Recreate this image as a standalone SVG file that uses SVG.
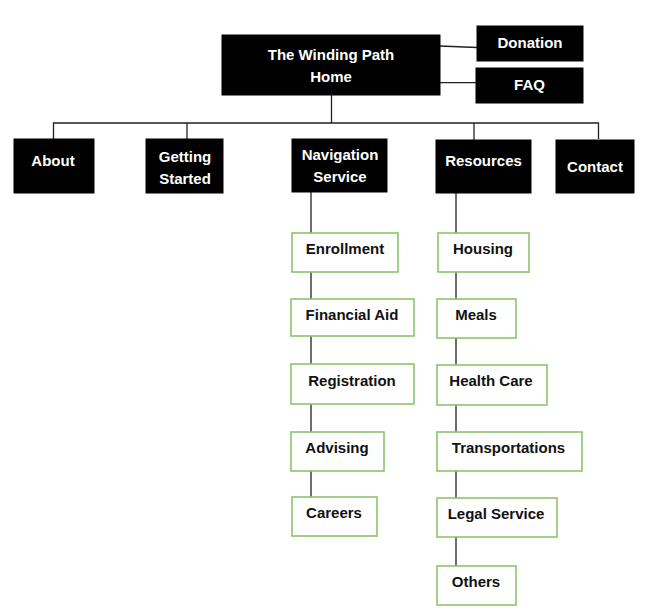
<svg xmlns="http://www.w3.org/2000/svg" width="649" height="614" viewBox="0 0 649 614">
<style>
.blk{fill:#000;stroke:#000}
.grn{fill:#fff;stroke:#8DC56C;stroke-width:1.6}
.wt{font-family:"Liberation Sans",Arial,sans-serif;font-weight:bold;font-size:15px;fill:#fff;text-anchor:middle}
.bt{font-family:"Liberation Sans",Arial,sans-serif;font-weight:bold;font-size:15px;fill:#111;text-anchor:middle}
.ln{stroke:#222;stroke-width:1.3;fill:none}
</style>
<rect width="649" height="614" fill="#fff"/>
<g id="connectors">
<path class="ln" d="M440 46 L477 47.5"/>
<path class="ln" d="M440 82.7 L476 82.7"/>
<path class="ln" d="M331.5 95 V123"/>
<path class="ln" d="M53.5 139 V123 H598.5 V139"/>
<path class="ln" d="M187 123 V139"/>
<path class="ln" d="M474 123 V140"/>
<path class="ln" d="M311 192 V233 M311 272 V299 M311 336 V364 M311 404 V432 M311 471 V497"/>
<path class="ln" d="M456 193 V233 M456 272 V299 M456 338 V365 M456 405 V432 M456 471 V498 M456 537 V566"/>
</g>
<g id="home"><rect class="blk" x="222" y="35" width="218" height="60"/><text class="wt" x="331" y="59.5">The Winding Path</text><text class="wt" x="331" y="81.5">Home</text></g>
<g id="donation"><rect class="blk" x="477" y="26" width="106" height="35"/><text class="wt" x="530" y="48">Donation</text></g>
<g id="faq"><rect class="blk" x="476" y="68" width="107" height="35"/><text class="wt" x="529.5" y="90">FAQ</text></g>
<g id="about"><rect class="blk" x="14" y="139" width="80" height="54"/><text class="wt" x="53" y="165.5">About</text></g>
<g id="getting-started"><rect class="blk" x="146" y="139" width="77" height="54"/><text class="wt" x="185" y="161.5">Getting</text><text class="wt" x="185" y="184">Started</text></g>
<g id="navigation-service"><rect class="blk" x="292" y="139" width="95" height="53"/><text class="wt" x="340" y="160">Navigation</text><text class="wt" x="340" y="182">Service</text></g>
<g id="resources"><rect class="blk" x="436" y="140" width="95" height="53"/><text class="wt" x="483.5" y="165.5">Resources</text></g>
<g id="contact"><rect class="blk" x="556" y="140" width="78" height="53"/><text class="wt" x="595" y="171.5">Contact</text></g>
<g id="enrollment"><rect class="grn" x="292" y="233" width="106" height="39"/><text class="bt" x="345" y="254">Enrollment</text></g>
<g id="financial-aid"><rect class="grn" x="291" y="299" width="123" height="37"/><text class="bt" x="352" y="320">Financial Aid</text></g>
<g id="registration"><rect class="grn" x="291" y="364" width="123" height="40"/><text class="bt" x="352" y="386">Registration</text></g>
<g id="advising"><rect class="grn" x="291" y="432" width="93" height="39"/><text class="bt" x="337" y="453">Advising</text></g>
<g id="careers"><rect class="grn" x="292" y="497" width="85" height="39"/><text class="bt" x="334" y="518">Careers</text></g>
<g id="housing"><rect class="grn" x="438" y="233" width="91" height="39"/><text class="bt" x="483" y="254">Housing</text></g>
<g id="meals"><rect class="grn" x="437" y="299" width="79" height="39"/><text class="bt" x="476" y="320">Meals</text></g>
<g id="health-care"><rect class="grn" x="437" y="365" width="110" height="40"/><text class="bt" x="491" y="386">Health Care</text></g>
<g id="transportations"><rect class="grn" x="437" y="432" width="145" height="39"/><text class="bt" x="508.5" y="453">Transportations</text></g>
<g id="legal-service"><rect class="grn" x="437" y="498" width="120" height="39"/><text class="bt" x="496" y="519">Legal Service</text></g>
<g id="others"><rect class="grn" x="437" y="566" width="79" height="39"/><text class="bt" x="476" y="587">Others</text></g>
</svg>
